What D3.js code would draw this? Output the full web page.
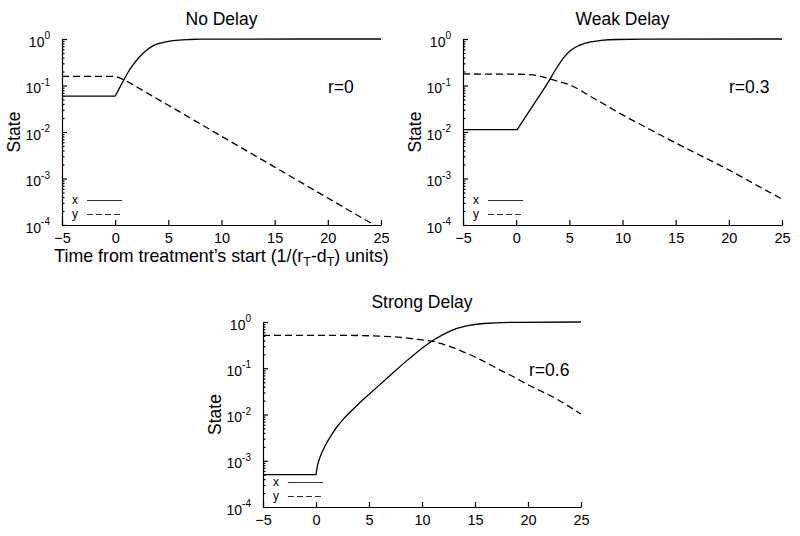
<!DOCTYPE html>
<html>
<head>
<meta charset="utf-8">
<script src="https://cdn.jsdelivr.net/npm/d3@7"></script>
<style>
  body { margin: 0; background: #fff; }
  svg { display: block; font-family: "Liberation Sans", Arial, sans-serif; }
</style>
</head>
<body>
<div id="chart"></div>
<script>
// tick values
const xTicks = [-5, 0, 5, 10, 15, 20, 25];
const yExponents = [0, -1, -2, -3, -4];

// No delay (r=0)
const noDelayXTime  = [-5, 0, 0.4, 0.83, 1.2, 1.7, 2.2, 2.65, 3.1, 3.6, 4.3, 5, 6, 7, 8, 10, 25];
const noDelayXValue = [0.059, 0.059, 0.088, 0.133, 0.19, 0.28, 0.39, 0.5, 0.61, 0.72, 0.82, 0.89, 0.95, 0.975, 0.99, 0.998, 1];
const noDelayYTime  = [-5, 0, 0.3, 0.8, 1.5, 2, 5, 10, 15, 20, 25];
const noDelayYValue = [0.157, 0.157, 0.15, 0.133, 0.11, 0.094, 0.0376, 0.0081, 0.00176, 0.00038, 0.0000825];

// Weak delay (r=0.3)
const weakXTime  = [-5, 0.1, 1, 2, 3, 3.6, 4.4, 5, 5.5, 6, 7, 8, 9.5, 12, 25];
const weakXValue = [0.0112, 0.0112, 0.0233, 0.052, 0.117, 0.2, 0.38, 0.54, 0.65, 0.74, 0.865, 0.93, 0.975, 0.993, 1];
const weakYTime  = [-5, 0, 1, 2, 3.2, 4, 5, 6, 7, 8, 10, 12.5, 15, 17.5, 20, 22.5, 25];
const weakYValue = [0.177, 0.175, 0.172, 0.163, 0.138, 0.122, 0.104, 0.08, 0.058, 0.043, 0.0234, 0.0116, 0.0058, 0.003, 0.00153, 0.00074, 0.00036];

// Strong delay (r=0.6)
const strongXTime  = [-5, 0, 0.1, 0.3, 0.6, 1, 1.3, 1.6, 2, 2.6, 3.3, 4.1, 6, 7.4, 8.6, 10.1, 11.1, 12.7, 14.2, 15.8, 18.9, 25];
const strongXValue = [0.0005, 0.0005, 0.000708, 0.00105, 0.00158, 0.0024, 0.00316, 0.00407, 0.0055, 0.00804, 0.01175, 0.0178, 0.0437, 0.0851, 0.148, 0.282, 0.407, 0.646, 0.822, 0.929, 0.986, 1];
const strongYTime  = [-5, 0, 4, 6, 8, 10, 11.1, 12, 13, 14, 15, 16, 17, 18.5, 20, 22.5, 25];
const strongYValue = [0.515, 0.515, 0.51, 0.495, 0.465, 0.41, 0.38, 0.33, 0.275, 0.22, 0.175, 0.135, 0.101, 0.068, 0.044, 0.023, 0.0102];

const width = 800, height = 536;

const svg = d3.select("#chart")
    .append("svg")
    .attr("width", width)
    .attr("height", height);

const panels = [
    {id: "p1", title: "No Delay", label: "r=0", left: 62, right: 381, top: 39, bottom: 225, xTitle: true,
        xs: [noDelayXTime, noDelayXValue], ys: [noDelayYTime, noDelayYValue]},
    {id: "p2", title: "Weak Delay", label: "r=0.3", left: 463, right: 782, top: 39, bottom: 225, xTitle: false,
        xs: [weakXTime, weakXValue], ys: [weakYTime, weakYValue]},
    {id: "p3", title: "Strong Delay", label: "r=0.6", left: 263, right: 581, top: 322, bottom: 507, xTitle: false,
        xs: [strongXTime, strongXValue], ys: [strongYTime, strongYValue]}
];

panels.forEach(drawPanel);

function drawPanel(p) {
    const x = d3.scaleLinear().domain([-5, 25]).range([p.left, p.right]);
    const y = d3.scaleLog().domain([1e-4, 1]).range([p.bottom, p.top]);

    const g = svg.append("g");

    svg.append("clipPath").attr("id", "clip-" + p.id)
        .append("rect")
        .attr("x", p.left).attr("y", p.top - 2)
        .attr("width", p.right - p.left + 1).attr("height", p.bottom - p.top + 2);

    // minor ticks on the log axis
    const minors = [];
    yExponents.slice(1).forEach(function(e) {
        for (let k = 2; k <= 9; k++) minors.push(k * Math.pow(10, e));
    });
    g.append("g")
        .attr("transform", "translate(" + p.left + ",0)")
        .call(d3.axisLeft(y).tickValues(minors).tickSize(-2.5).tickSizeOuter(0).tickFormat(""))
        .call(s => s.select(".domain").remove());

    const yAxis = g.append("g")
        .attr("transform", "translate(" + p.left + ",0)")
        .call(d3.axisLeft(y)
            .tickValues(yExponents.map(e => Math.pow(10, e)))
            .tickSize(-5).tickSizeOuter(0).tickPadding(12)
            .tickFormat(""));
    yAxis.selectAll(".tick text").each(function(d) {
        const t = d3.select(this)
            .attr("font-size", 14)
            .attr("dy", "0.5em")
            .attr("fill", "#000");
        t.append("tspan").text("10");
        t.append("tspan").attr("font-size", 10).attr("dy", "-0.75em")
            .text(String(Math.round(Math.log10(d))));
    });

    g.append("g")
        .attr("transform", "translate(0," + p.bottom + ")")
        .call(d3.axisBottom(x).tickValues(xTicks).tickSize(-5).tickSizeOuter(0).tickPadding(8))
        .call(s => s.selectAll(".tick text").attr("font-size", 14.5).attr("fill", "#000"));

    g.selectAll(".domain, .tick line").attr("stroke", "#000").attr("stroke-width", 1.2);

    // curves: straight flat part, then smooth from the second point on
    const line = d3.line()
        .x(d => x(d[0]))
        .y(d => y(d[1]))
        .curve(d3.curveMonotoneX);

    function curvePath(times, values) {
        const pts = times.map((t, i) => [t, values[i]]);
        const rest = line(pts.slice(1));
        return "M" + x(pts[0][0]) + "," + y(pts[0][1]) + "L" + rest.slice(1);
    }

    const curves = g.append("g").attr("clip-path", "url(#clip-" + p.id + ")");
    curves.append("path")
        .attr("d", curvePath(p.xs[0], p.xs[1]))
        .attr("fill", "none").attr("stroke", "#000").attr("stroke-width", 1.3);
    curves.append("path")
        .attr("d", curvePath(p.ys[0], p.ys[1]))
        .attr("fill", "none").attr("stroke", "#000").attr("stroke-width", 1.3)
        .attr("stroke-dasharray", "7,4");

    // legend
    const leg = g.append("g").attr("font-size", 12);
    leg.append("text").attr("x", p.left + 10).attr("y", p.bottom - 21).text("x");
    leg.append("line")
        .attr("x1", p.left + 25).attr("x2", p.left + 60)
        .attr("y1", p.bottom - 24.5).attr("y2", p.bottom - 24.5)
        .attr("stroke", "#333").attr("stroke-width", 1.2);
    leg.append("text").attr("x", p.left + 10).attr("y", p.bottom - 7).text("y");
    leg.append("line")
        .attr("x1", p.left + 25).attr("x2", p.left + 60)
        .attr("y1", p.bottom - 10.5).attr("y2", p.bottom - 10.5)
        .attr("stroke", "#333").attr("stroke-width", 1.2)
        .attr("stroke-dasharray", "6,3");

    // title, r label, axis titles
    g.append("text")
        .attr("x", (p.left + p.right) / 2).attr("y", p.top - 14)
        .attr("text-anchor", "middle").attr("font-size", 17.5)
        .text(p.title);

    g.append("text")
        .attr("x", p.left + 266).attr("y", p.top + 54)
        .attr("font-size", 17.5)
        .text(p.label);

    g.append("text")
        .attr("transform", "translate(" + (p.left - 42) + "," + ((p.top + p.bottom) / 2) + ")rotate(-90)")
        .attr("text-anchor", "middle").attr("font-size", 17.5)
        .text("State");

    if (p.xTitle) {
        const xt = g.append("text")
            .attr("x", (p.left + p.right) / 2).attr("y", p.bottom + 37)
            .attr("text-anchor", "middle").attr("font-size", 17.8);
        xt.append("tspan").text("Time from treatment\u2019s start (1/(r");
        xt.append("tspan").attr("font-size", 12.5).attr("dy", 4).text("T");
        xt.append("tspan").attr("dy", -4).text("-d");
        xt.append("tspan").attr("font-size", 12.5).attr("dy", 4).text("T");
        xt.append("tspan").attr("dy", -4).text(") units)");
    }
}
</script>
</body>
</html>
